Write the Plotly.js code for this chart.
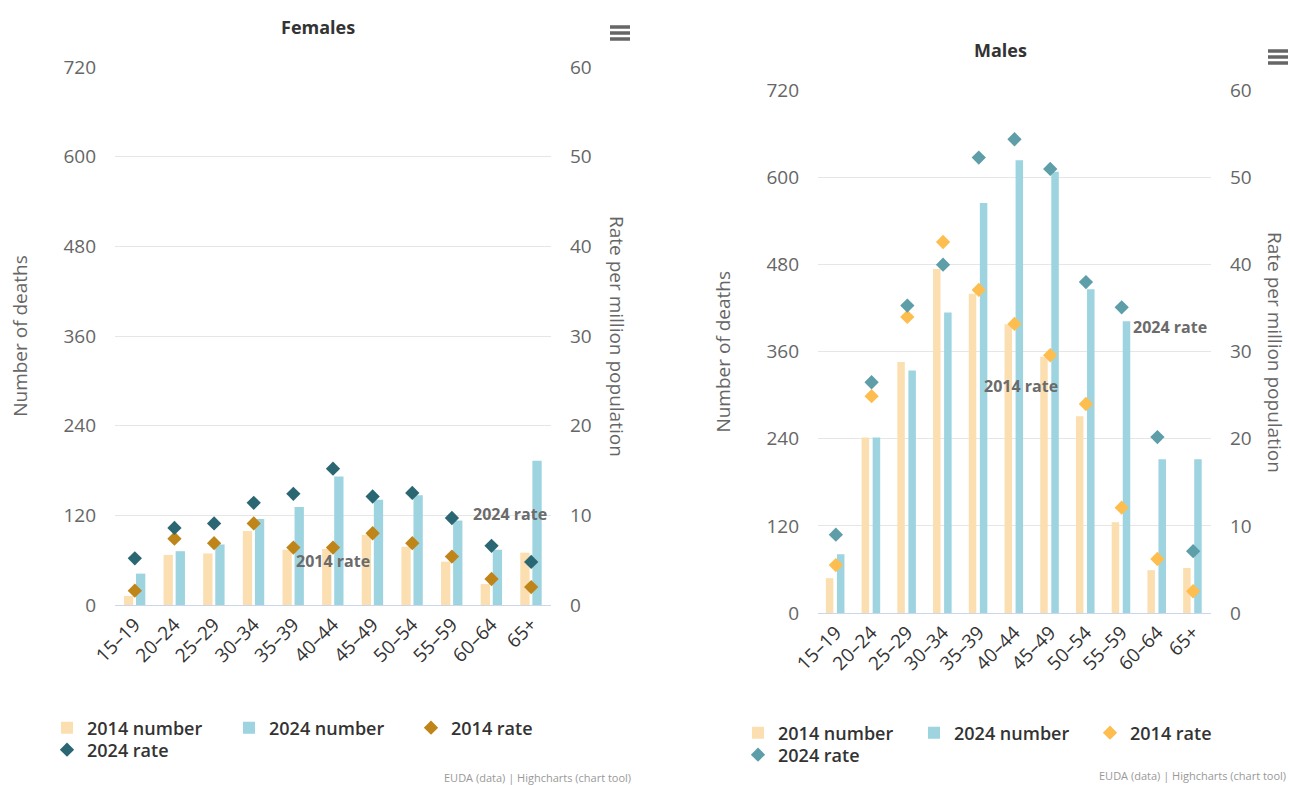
<!DOCTYPE html>
<html>
<head>
<meta charset="utf-8">
<script src="https://cdn.plot.ly/plotly-3.0.1.min.js"></script>
<style>
  html, body { margin: 0; padding: 0; background: #ffffff; }
  #chart { width: 1290px; height: 785px; }
</style>
</head>
<body>
<div id="chart"></div>
<script>
// ---- Data ----
const categories = ['15–19','20–24','25–29','30–34','35–39','40–44','45–49','50–54','55–59','60–64','65+'];

const female2014Number = [12, 67, 69, 99, 74, 75, 94, 78, 58, 28, 70];
const female2024Number = [42, 72, 81, 115, 131, 172, 141, 147, 113, 74, 193];
const female2014Rate   = [1.6, 7.4, 6.9, 9.1, 6.4, 6.4, 8.0, 6.9, 5.4, 2.9, 2.0];
const female2024Rate   = [5.2, 8.6, 9.1, 11.4, 12.4, 15.2, 12.1, 12.5, 9.7, 6.6, 4.8];

const male2014Number = [48, 242, 346, 474, 440, 398, 353, 271, 125, 59, 62];
const male2024Number = [81, 242, 334, 414, 565, 624, 608, 446, 402, 212, 212];
const male2014Rate   = [5.5, 24.9, 34.0, 42.6, 37.1, 33.2, 29.6, 24.0, 12.1, 6.2, 2.5];
const male2024Rate   = [9.0, 26.5, 35.3, 40.0, 52.3, 54.4, 51.0, 38.0, 35.1, 20.2, 7.1];

const numberTicks = [0, 120, 240, 360, 480, 600, 720];
const rateTicks = [0, 10, 20, 30, 40, 50, 60];

// ---- Styling ----
const W = 1290, H = 785;
const px = v => v / W;
const py = v => 1 - v / H;
const FONT = '"Open Sans", "Noto Sans", sans-serif';
const C = {
  num14: '#fbdfb1', num24: '#9dd4e0',
  fRate14: '#bf8519', fRate24: '#2b6772',
  mRate14: '#fdbe4f', mRate24: '#5e9ea8',
  grid: '#e6e6e6', axisLine: '#ccd6eb', tick: '#666666', dark: '#333333'
};

function barTrace(name, y, color, xa, ya, off, wid, legend) {
  return {
    type: 'bar', name: name, x: categories, y: y, xaxis: xa, yaxis: ya,
    marker: { color: color, line: { width: 0 } }, width: wid, offset: off,
    legend: legend, hoverinfo: 'x+y+name'
  };
}
function rateTrace(name, y, color, xa, ya, legend) {
  return {
    type: 'scatter', mode: 'markers', name: name, x: categories, y: y,
    xaxis: xa, yaxis: ya, legend: legend,
    marker: { symbol: 'diamond', size: 11, color: color, line: { width: 0 } },
    cliponaxis: false
  };
}

const traces = [
  barTrace('2014 number', female2014Number, C.num14, 'x', 'y', -0.275, 0.235, 'legend'),
  barTrace('2024 number', female2024Number, C.num24, 'x', 'y', 0.03, 0.235, 'legend'),
  rateTrace('2014 rate', female2014Rate, C.fRate14, 'x', 'y2', 'legend'),
  rateTrace('2024 rate', female2024Rate, C.fRate24, 'x', 'y2', 'legend2'),
  barTrace('2014 number', male2014Number, C.num14, 'x2', 'y3', -0.28, 0.21, 'legend3'),
  barTrace('2024 number', male2024Number, C.num24, 'x2', 'y3', 0.03, 0.21, 'legend3'),
  rateTrace('2014 rate', male2014Rate, C.mRate14, 'x2', 'y4', 'legend3'),
  rateTrace('2024 rate', male2024Rate, C.mRate24, 'x2', 'y4', 'legend4')
];

const tickFont = { family: FONT, size: 19, color: C.tick };
const catFont = { family: FONT, size: 19, color: C.dark };
const titleFont = { family: FONT, size: 19, color: C.tick };

function xAxis(domain, anchor) {
  return {
    domain: domain, anchor: anchor, type: 'category',
    range: [-0.5, categories.length - 0.5],
    showgrid: false, zeroline: false, showline: true, linecolor: C.axisLine, linewidth: 1,
    ticks: '', tickangle: -45, tickfont: catFont, fixedrange: true
  };
}
function leftAxis(domain, anchor, standoff) {
  return {
    domain: domain, anchor: anchor, range: [0, 720], tickvals: numberTicks,
    showgrid: true, gridcolor: C.grid, gridwidth: 1, zeroline: false, showline: false,
    ticks: '', tickfont: tickFont, ticklabelstandoff: 18, fixedrange: true,
    title: { text: 'Number of deaths', font: titleFont, standoff: standoff }
  };
}
function rightAxis(overlay, anchor) {
  return {
    overlaying: overlay, anchor: anchor, side: 'right', range: [0, 60], tickvals: rateTicks,
    showgrid: false, zeroline: false, showline: false, ticks: '', tickfont: tickFont,
    ticklabelstandoff: 18, fixedrange: true
  };
}

const fDomX = [px(115), px(551)], fDomY = [py(605), py(67)];
const mDomX = [px(818), px(1211)], mDomY = [py(613), py(90.5)];

function legendRow(xPix, yPix, entry) {
  return {
    orientation: 'h', x: px(xPix), xanchor: 'left', y: py(yPix), yanchor: 'middle',
    bgcolor: 'rgba(0,0,0,0)', borderwidth: 0, entrywidth: entry, entrywidthmode: 'pixels',
    font: { family: FONT, size: 18, color: C.dark, weight: 600 },
    itemclick: false, itemdoubleclick: false, traceorder: 'normal'
  };
}

function hamburger(cx, cy) {
  const s = [];
  [-6, 0, 6].forEach(d => {
    s.push({ type: 'line', xref: 'paper', yref: 'paper',
      x0: px(cx - 10), x1: px(cx + 10), y0: py(cy + d), y1: py(cy + d),
      line: { color: '#666666', width: 3.5 } });
  });
  return s;
}

const labelFont = { family: FONT, size: 16, color: '#6b6b6b', weight: 'bold' };

const layout = {
  width: W, height: H,
  margin: { l: 0, r: 0, t: 0, b: 0, pad: 0 },
  paper_bgcolor: '#ffffff', plot_bgcolor: 'rgba(0,0,0,0)',
  barmode: 'overlay',
  hovermode: 'closest',
  xaxis: xAxis(fDomX, 'y'),
  yaxis: leftAxis(fDomY, 'x', 30),
  yaxis2: rightAxis('y', 'x'),
  xaxis2: xAxis(mDomX, 'y3'),
  yaxis3: leftAxis(mDomY, 'x2', 30),
  yaxis4: rightAxis('y3', 'x2'),
  legend: legendRow(47, 728, 137),
  legend2: legendRow(47, 750, 137),
  legend3: legendRow(738, 733, 131),
  legend4: legendRow(738, 755, 131),
  shapes: [].concat(hamburger(620, 33), hamburger(1278, 57)),
  annotations: [
    { text: '<b>Females</b>', xref: 'paper', yref: 'paper', x: px(318), y: py(27),
      xanchor: 'center', yanchor: 'middle', showarrow: false,
      font: { family: FONT, size: 18, color: C.dark } },
    { text: '<b>Males</b>', xref: 'paper', yref: 'paper', x: px(1000), y: py(50),
      xanchor: 'center', yanchor: 'middle', showarrow: false,
      font: { family: FONT, size: 18, color: C.dark } },
    { text: 'Rate per million population', xref: 'paper', yref: 'paper', x: px(617), y: py(336),
      xanchor: 'center', yanchor: 'middle', textangle: 90, showarrow: false, font: titleFont },
    { text: 'Rate per million population', xref: 'paper', yref: 'paper', x: px(1275), y: py(352),
      xanchor: 'center', yanchor: 'middle', textangle: 90, showarrow: false, font: titleFont },
    { text: '2014 rate', xref: 'x', yref: 'y2', x: 5.0, y: 4.9, showarrow: false,
      xanchor: 'center', yanchor: 'middle', font: labelFont },
    { text: '2024 rate', xref: 'x', yref: 'y2', x: 9.47, y: 10.1, showarrow: false,
      xanchor: 'center', yanchor: 'middle', font: labelFont },
    { text: '2014 rate', xref: 'x2', yref: 'y4', x: 5.19, y: 26.1, showarrow: false,
      xanchor: 'center', yanchor: 'middle', font: labelFont },
    { text: '2024 rate', xref: 'x2', yref: 'y4', x: 9.36, y: 32.9, showarrow: false,
      xanchor: 'center', yanchor: 'middle', font: labelFont },
    { text: 'EUDA (data) | Highcharts (chart tool)', xref: 'paper', yref: 'paper',
      x: px(633), y: py(777), xanchor: 'right', yanchor: 'middle', showarrow: false,
      font: { family: FONT, size: 11, color: '#999999' } },
    { text: 'EUDA (data) | Highcharts (chart tool)', xref: 'paper', yref: 'paper',
      x: px(1288), y: py(775), xanchor: 'right', yanchor: 'middle', showarrow: false,
      font: { family: FONT, size: 11, color: '#999999' } }
  ]
};

Plotly.newPlot('chart', traces, layout, { displayModeBar: false, responsive: false, staticPlot: false });
</script>
</body>
</html>
